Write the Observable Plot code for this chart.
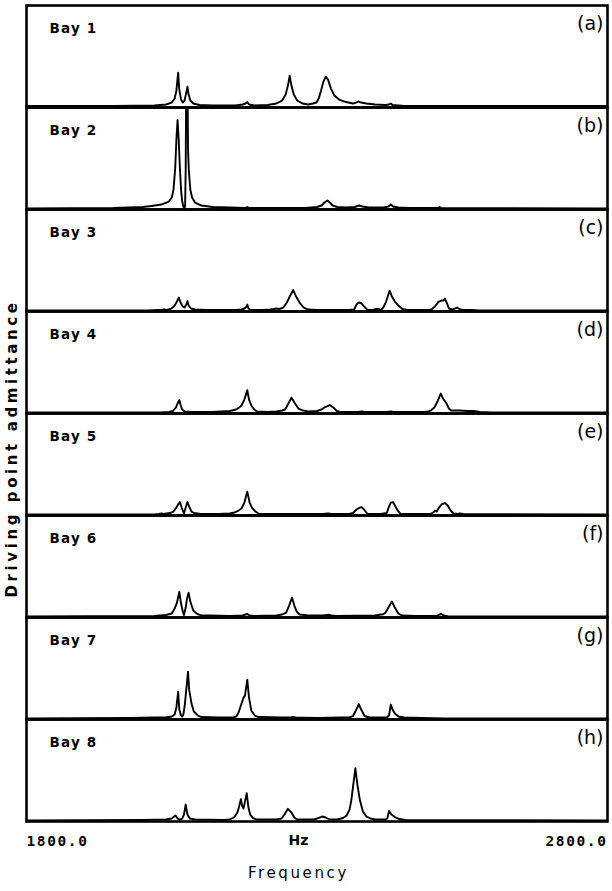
<!DOCTYPE html>
<html>
<head>
<meta charset="utf-8">
<script src="https://cdn.jsdelivr.net/npm/d3@7"></script>
<script src="https://cdn.jsdelivr.net/npm/@observablehq/plot@0.6"></script>
<style>
  html, body { margin: 0; padding: 0; background: #fff; }
  #chart { width: 612px; height: 891px; }
</style>
</head>
<body>
<div id="chart"></div>
<script>
// Panel names and tags
const bays = ["Bay 1", "Bay 2", "Bay 3", "Bay 4", "Bay 5", "Bay 6", "Bay 7", "Bay 8"];
const tags = ["(a)", "(b)", "(c)", "(d)", "(e)", "(f)", "(g)", "(h)"];
const yLabel = ["Driving point admittance"];
const xTicks = [1800, 2800];
const unitTick = [2268];

// Traced spectra: [frequency Hz, admittance (arbitrary units)]
const bay1 = [[1800,1.5],[1950,1.5],[2020,2],[2040,3],[2050,5],[2055,9],[2058,17],[2061,35],[2063,18],[2066,8],[2069,5],
  [2072,7],[2074,12],[2077,21],[2079,13],[2082,7],[2087,4],[2098,2.5],[2120,2],
  [2160,2],[2172,3],[2177,4],[2180,5.5],[2183,3],[2192,2],
  [2215,2.5],[2230,4],[2240,7],[2246,13],[2250,22],[2253,32],[2256,22],[2260,13],[2266,7],[2275,4],[2285,3],
  [2293,4],[2299,5],[2303,9],[2307,17],[2311,26],[2315,31],[2319,28],[2324,19],[2330,12],[2338,8],[2350,5.5],[2362,4],
  [2367,5],[2371,6],[2376,5],[2385,4],[2400,3],[2418,2.5],[2424,3],[2427,4],[2430,2.5],[2450,1.5],[2800,1.5]];

const bay2 = [[1800,1],[1950,1.5],[2000,2.5],[2015,3.5],[2032,5],[2045,8],[2050,12],[2053,20],[2056,42],[2058,70],[2060,90],
  [2062,70],[2064,42],[2066,20],[2068,8],[2070,3],[2072,1],
  [2073,4],[2074,40],[2075,140],[2077,140],[2078,60],[2079.5,38],[2082,20],[2085,12],[2090,7],[2101,4],[2120,2.5],[2150,2],
  [2176,1.5],[2180,2.5],[2184,1.5],[2280,1.5],
  [2300,2.5],[2308,4],[2313,7],[2318,9],[2322,7],[2327,4],[2335,2.5],[2350,2],[2365,2.5],[2370,3.5],[2373,4],[2378,3],[2390,2],
  [2415,2],[2423,3],[2427,5],[2431,3],[2440,2],[2460,1.5],[2508,1.5],[2511,2.5],[2514,1.5],[2800,1]];

const bay3 = [[1800,1],[2010,1],[2025,1.5],[2032,1.5],[2037,2.2],[2041,1.5],[2048,2.5],[2054,5],[2058,9],[2062,14],[2066,8],[2069,5],
  [2072,4],[2075,7],[2077,10.5],[2079,6],[2083,3],[2090,2],[2110,1.5],[2160,1.5],[2170,2],[2175,3],[2178,4.5],[2180,7],[2182,3],[2186,1.5],
  [2205,1.5],[2220,2],[2226,2.5],[2230,3],[2235,2.5],[2242,4],[2248,9],[2253,15],[2259,21.5],[2264,15],[2270,9],[2277,4],[2285,2],[2300,1.5],
  [2355,1.5],[2364,2],[2368,7],[2372,9],[2376,8.5],[2381,5],[2387,1.5],[2396,1.5],[2402,2.5],[2406,2.5],[2410,1.5],
  [2414,4],[2419,10],[2425,21],[2429,15],[2434,10],[2440,6],[2447,2.5],[2455,1.5],
  [2492,1.5],[2497,2],[2503,5],[2509,9.7],[2514,11],[2517,11],[2520,13],[2524,8],[2527,3],[2533,2],[2537,3],[2541,4],[2545,2.5],[2550,1.5],
  [2565,1.5],[2575,1.2],[2590,1],[2800,1]];

const bay4 = [[1800,1],[2030,1],[2045,1.5],[2052,2.5],[2057,6],[2060,10],[2063,13.5],[2065,9],[2068,4],[2072,2],[2085,1.5],
  [2120,1.5],[2150,2.5],[2161,4],[2166,6],[2170,8],[2175,14],[2180,23.5],[2183,14],[2187,8],[2192,4],[2197,2],[2215,1.5],
  [2230,2],[2240,3],[2245,4],[2250,9],[2256,16],[2261,11],[2268,5],[2276,3],[2285,2],[2300,2.5],[2308,4],[2314,6.5],[2322,8.5],[2328,6],[2334,2.5],[2340,1.5],
  [2370,1.5],[2377,2],[2382,1.5],[2420,1.5],[2427,2],[2432,1.5],
  [2485,1.5],[2491,2],[2497,3.5],[2502,6],[2508,13],[2513,20],[2517,15],[2523,10],[2527,5],[2531,3],[2545,3],[2560,2.5],[2570,2.5],[2580,1.5],[2600,1],[2800,1]];

const bay5 = [[1800,1],[2020,1],[2028,1.5],[2032,2],[2036,1.5],[2047,2.5],[2053,4],[2058,8],[2061,11],[2064,13.5],[2067,8],[2071,2],
  [2074,8],[2077,13.5],[2080,9],[2084,4],[2088,2.5],[2100,1.5],[2130,1.5],[2150,2],[2158,3],[2165,5],[2170,7],[2175,13],[2180,24],
  [2184,13],[2188,8],[2194,4],[2200,1.7],[2220,1.5],
  [2310,1.5],[2319,2],[2325,1.5],[2355,1.5],[2362,2.5],[2368,6],[2374,8],[2377,8.5],[2381,6],[2387,1.5],
  [2410,1.5],[2420,2.5],[2424,9],[2427,13],[2431,13.5],[2435,9],[2440,4],[2444,1.5],
  [2495,1.5],[2500,3],[2503,5],[2506,4],[2510,8],[2515,11.5],[2520,12.5],[2525,10],[2530,5],[2535,2],[2542,1.5],[2546,2],[2552,1.5],[2800,1]];

const bay6 = [[1800,1],[2020,1.5],[2030,2],[2040,2.5],[2050,4],[2055,9],[2059,15],[2063,26],[2066,14],[2069,6],[2071,2.5],
  [2074,10],[2076,18],[2079,25],[2082,16],[2087,7],[2093,4],[2101,2],[2115,2],[2150,1.5],[2172,2],[2177,3],[2180,3.5],[2184,2],[2192,1.5],
  [2230,2],[2240,3],[2247,5],[2252,12],[2257,20],[2261,12],[2265,6],[2270,3],[2285,2],[2310,2],[2317,2.5],[2321,2.7],[2325,2],[2332,1.5],
  [2400,2],[2410,3],[2414,3.3],[2418,5],[2423,10],[2429,16],[2434,10],[2440,4],[2446,2],[2470,1.5],[2506,1.5],[2511,3],[2514,3.5],[2518,2],[2525,1.2],[2800,1]];

const bay7 = [[1800,1],[1980,1.5],[2020,2],[2040,2],[2050,3],[2055,5],[2058,12],[2061,28],[2063,10],[2066,4],[2068,3],
  [2070,5],[2072.5,15],[2075,30],[2078,48],[2080,30],[2084,16],[2088,8],[2095,4],[2101,2.5],[2130,2],
  [2155,2],[2161,3],[2165,7],[2169,14],[2173.5,22],[2176,24],[2180,40],[2183,22],[2187,9],[2193,4],[2199,2.5],[2240,2],
  [2255,2],[2259,2.7],[2263,2],[2300,1.5],[2340,2],[2355,2],[2362,3.5],[2366,8],[2372,15.5],[2376,10],[2382,3.5],[2390,2],
  [2420,2],[2424,4],[2427,15],[2430,10],[2434,6],[2440,3],[2450,2],[2480,1.5],[2520,1],[2800,1]];

const bay8 = [[1800,1],[2000,1.5],[2040,2],[2050,3],[2056.5,6],[2060,3],[2064,2],[2068,3],[2071,7],[2074,17],[2077,7],[2081,3],[2090,2],
  [2140,1.5],[2150,2],[2158,4.5],[2163,9],[2166,15],[2169,22.5],[2171,16],[2173.5,13],[2176,20],[2179,28.5],[2182,14],[2185,7],[2190,3.5],[2196,2],
  [2230,2],[2239,3],[2244,7],[2250,12.7],[2256,9],[2261,4],[2266,2],[2295,2],[2302,3.5],[2309,5],[2315,4],[2322,2],
  [2335,2],[2345,3.5],[2351,6],[2356,12],[2359,21],[2362,35],[2366,53.5],[2370,35],[2374,21],[2379,10],[2385,5],[2392,3],[2400,2],
  [2418,2],[2421,3],[2424,10.5],[2428,7],[2434,4.5],[2442,2.5],[2452,1.5],[2800,1]];

const traces = [bay1, bay2, bay3, bay4, bay5, bay6, bay7, bay8];
const rows = traces.flatMap((pts, i) => pts.map(([f, v]) => ({bay: bays[i], f, v})));

const tickFont = "DejaVu Sans Mono";
const chart = Plot.plot({
  width: 612,
  height: 891,
  marginTop: 3,
  marginBottom: 68,
  marginLeft: 26,
  marginRight: 5,
  x: {domain: [1800, 2800], label: null},
  y: {domain: [0, 102.5], axis: null},
  fy: {domain: bays, axis: null, padding: 0},
  style: {fontFamily: "DejaVu Sans", background: "#fff", color: "#000"},
  marks: [
    Plot.line(rows, {x: "f", y: "v", fy: "bay", z: "bay", stroke: "#000", strokeWidth: 1.9, clip: true, strokeLinejoin: "round"}),
    Plot.frame({stroke: "#000", strokeWidth: 2.6}),
    Plot.text(bays, {fy: d => d, text: d => d, frameAnchor: "top-left", dx: 23, dy: 18, fontSize: 13.5, fontWeight: "bold"}),
    Plot.text(bays, {fy: d => d, text: (d, i) => tags[i], frameAnchor: "top-right", dx: -4, dy: 11, fontSize: 19}),
    Plot.text(yLabel, {facet: "super", text: d => d, frameAnchor: "left", textAnchor: "middle", rotate: -90, dx: -14, dy: 35, fontSize: 15, fontWeight: "bold"}),
    Plot.axisX([xTicks[0]], {tickSize: 0, tickPadding: 14, tickFormat: d => d.toFixed(1), textAnchor: "start", fontSize: 14.5, fontWeight: "bold", fontFamily: tickFont, label: null}),
    Plot.axisX([xTicks[1]], {tickSize: 0, tickPadding: 14, tickFormat: d => d.toFixed(1), textAnchor: "end", fontSize: 14.5, fontWeight: "bold", fontFamily: tickFont, label: null}),
    Plot.axisX(unitTick, {tickSize: 0, tickPadding: 14, tickFormat: () => "Hz", fontSize: 14, fontWeight: "bold", label: null}),
    Plot.axisX(unitTick, {tickSize: 0, tickPadding: 46, tickFormat: () => "Frequency", fontSize: 15, label: null})
  ]
});
document.getElementById("chart").appendChild(chart);

// letter spacing to imitate the plotter lettering
d3.select(chart).selectAll("text").each(function() {
  const t = this.textContent;
  const s = d3.select(this);
  if (t === yLabel[0]) s.style("letter-spacing", "3.6px");
  else if (t === "Frequency") s.style("letter-spacing", "2.6px");
  else if (bays.includes(t)) s.style("letter-spacing", "1.2px");
  else if (t.endsWith(".0")) s.style("letter-spacing", "1.6px");
});
</script>
</body>
</html>
